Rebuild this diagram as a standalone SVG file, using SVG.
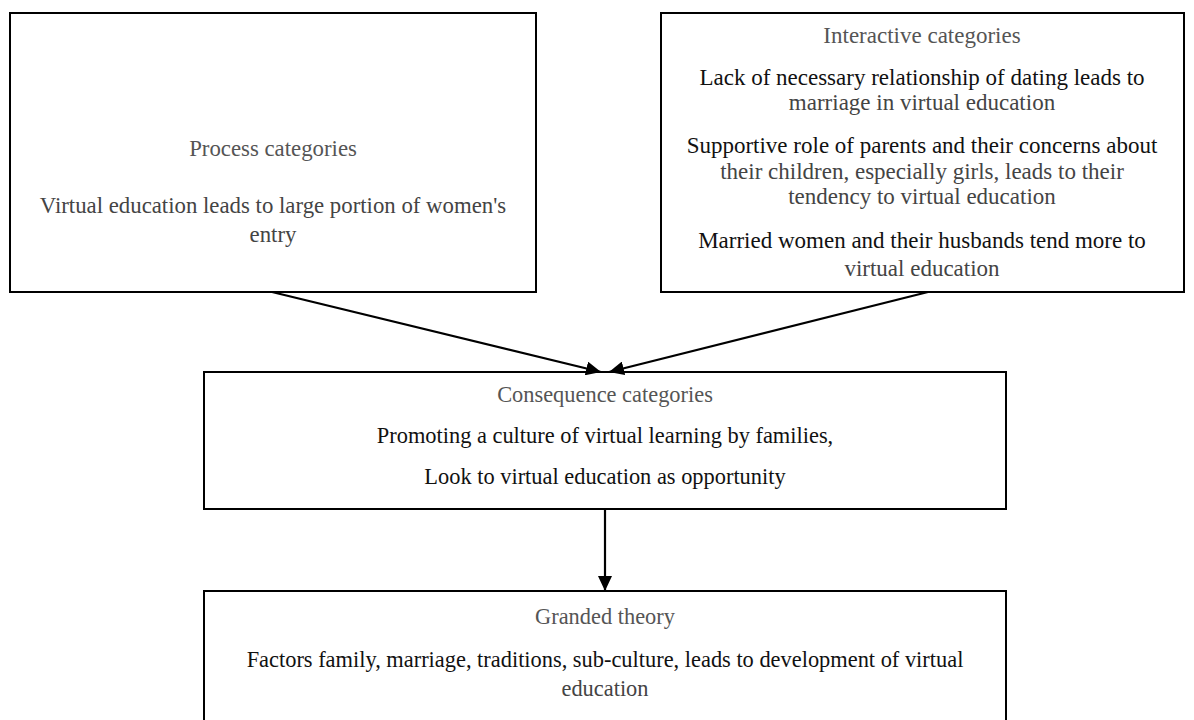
<svg xmlns="http://www.w3.org/2000/svg" width="1194" height="720" viewBox="0 0 1194 720">
<defs>
<style>
.box{fill:#fff;stroke:#000;stroke-width:2}
.h{fill:#555}
.k{fill:#111}
.g{fill:#444}
.c{stroke:#000;stroke-width:2.2;fill:none}
</style>
<marker id="ah" markerUnits="userSpaceOnUse" markerWidth="16" markerHeight="14" refX="15" refY="7" orient="auto">
<path d="M0,0 L15,7 L0,14 Z" fill="#000"/>
</marker>
</defs>
<rect width="1194" height="720" fill="#fff"/>
<g id="process" font-family="Liberation Serif, Times New Roman, serif" font-size="22.8" text-anchor="middle">
<rect class="box" x="10" y="13" width="526" height="279"/>
<text class="h" x="273" y="156">Process categories</text>
<text class="g" x="273" y="213">Virtual education leads to large portion of women's</text>
<text class="g" x="273" y="242">entry</text>
</g>
<g id="interactive" font-family="Liberation Serif, Times New Roman, serif" font-size="23" text-anchor="middle">
<rect class="box" x="661" y="13" width="523" height="279"/>
<text class="h" x="922" y="43">Interactive categories</text>
<text class="k" x="922" y="85">Lack of necessary relationship of dating leads to</text>
<text class="g" x="922" y="110">marriage in virtual education</text>
<text class="k" x="922" y="153">Supportive role of parents and their concerns about</text>
<text class="g" x="922" y="179">their children, especially girls, leads to their</text>
<text class="g" x="922" y="204">tendency to virtual education</text>
<text class="k" x="922" y="248">Married women and their husbands tend more to</text>
<text class="g" x="922" y="276">virtual education</text>
</g>
<g id="consequence" font-family="Liberation Serif, Times New Roman, serif" font-size="22.4" text-anchor="middle">
<rect class="box" x="204" y="372" width="802" height="137"/>
<text class="h" x="605" y="402">Consequence categories</text>
<text class="k" x="605" y="443">Promoting a culture of virtual learning by families,</text>
<text class="k" x="605" y="484">Look to virtual education as opportunity</text>
</g>
<g id="granded" font-family="Liberation Serif, Times New Roman, serif" font-size="22.4" text-anchor="middle">
<rect class="box" x="204" y="591" width="802" height="140"/>
<text class="h" x="605" y="624">Granded theory</text>
<text class="k" x="605" y="667">Factors family, marriage, traditions, sub-culture, leads to development of virtual</text>
<text class="g" x="605" y="696">education</text>
</g>
<g id="connectors">
<line class="c" x1="272" y1="292" x2="601" y2="372" marker-end="url(#ah)"/>
<line class="c" x1="928" y1="292" x2="609" y2="372" marker-end="url(#ah)"/>
<line class="c" x1="605" y1="509" x2="605" y2="591" marker-end="url(#ah)"/>
</g>
</svg>
